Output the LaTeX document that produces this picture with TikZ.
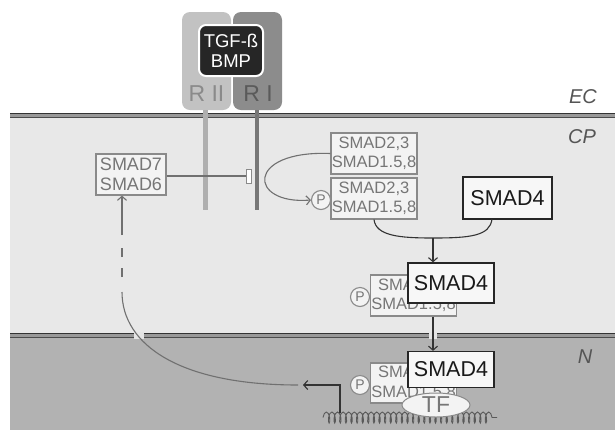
\documentclass[tikz,border=0pt]{standalone}
\usepackage{fontspec}
\setmainfont{Liberation Sans}
\usetikzlibrary{arrows.meta,decorations.pathmorphing,shapes.geometric}
\definecolor{cpbg}{HTML}{E8E8E8}
\definecolor{nbg}{HTML}{B2B2B2}
\definecolor{boxgray}{HTML}{8A8A8A}
\definecolor{boxfill}{HTML}{F3F3F3}
\definecolor{txtgray}{HTML}{767676}
\definecolor{conngray}{HTML}{707070}
\definecolor{rtwo}{HTML}{C2C2C2}
\definecolor{rone}{HTML}{8C8C8C}
\definecolor{rtwotxt}{HTML}{8A8A8A}
\definecolor{ronetxt}{HTML}{5A5A5A}
\definecolor{labgray}{HTML}{555555}
\begin{document}
\begin{tikzpicture}[x=1pt,y=-1pt,
  >={Straight Barb[length=4pt,width=9pt]},
  graybox/.style={draw=boxgray, line width=1.2pt, fill=boxfill, text=txtgray, inner sep=0pt,
    align=center, font=\fontsize{16.5}{19.5}\selectfont, minimum width=86pt, minimum height=41pt},
  sfourbox/.style={draw=black!85, line width=1.3pt, fill=white!97!black, inner sep=0pt,
    font=\fontsize{21.5}{24}\selectfont, text=black!90, minimum width=86pt},
  pcirc/.style={circle, draw=boxgray, line width=1.1pt, fill=boxfill, minimum size=19pt, inner sep=0pt,
    font=\fontsize{14}{14}\selectfont, text=txtgray},
  conn/.style={draw=conngray, line width=1.1pt},
  blk/.style={draw=black!80, line width=1.1pt},
  regionlab/.style={font=\fontsize{20}{20}\selectfont\itshape, text=labgray},
  membrane/.style={line width=1.6pt, draw=black!80}]
\useasboundingbox (0,0) rectangle (615,432);
\fill[white] (0,0) rectangle (615,432);
% regions
\fill[cpbg] (10,115) rectangle (615,335);
\fill[nbg] (10,335) rectangle (615,430);
% membranes
\fill[black!40] (10,112.5) rectangle (615,118);
\draw[membrane] (10,113.5) -- (615,113.5);
\draw[line width=0.9pt, black!70] (10,117.3) -- (615,117.3);
\fill[black!40] (10,332.5) rectangle (615,338);
\draw[membrane] (10,333.5) -- (615,333.5);
\draw[line width=0.9pt, black!70] (10,337.3) -- (615,337.3);
% gaps in nuclear membrane
\fill[white!90!black] (134,332) rectangle (144,339);
\fill[white!90!black] (429,332) rectangle (437,339);
% receptors
\node[fill=rtwo, rounded corners=8pt, minimum width=49pt, minimum height=98pt, inner sep=0pt] (r2) at (206.5,61) {};
\node[fill=rone, rounded corners=8pt, minimum width=49pt, minimum height=98pt, inner sep=0pt] (r1) at (257.5,61) {};
\node[fill=rtwo!90!black, minimum width=5pt, minimum height=100pt, inner sep=0pt] (st2) at (205.5,160) {};
\node[fill=rone!85!black, minimum width=4.5pt, minimum height=100pt, inner sep=0pt] (st1) at (257,160) {};
\node[font=\fontsize{23}{23}\selectfont, text=rtwotxt] (r2lab) at (206.5,94) {R II};
\node[font=\fontsize{23}{23}\selectfont, text=ronetxt] (r1lab) at (258,94) {R I};
\node[fill=black!85, draw=white, line width=2pt, rounded corners=7pt, minimum width=64pt, minimum height=51pt,
  inner sep=0pt, text=white, align=center, font=\fontsize{18.5}{20}\selectfont] (lig) at (231,50.5) {TGF-ß\\BMP};
% region labels
\node[regionlab] (ec) at (583,97) {EC};
\node[regionlab] (cp) at (582,137) {CP};
\node[regionlab] (nn) at (585,357) {N};
% SMAD7/6
\node[graybox, minimum width=70pt, font=\fontsize{18}{20}\selectfont] (s76) at (131,174.5) {SMAD7\\SMAD6};
\node[draw=boxgray, fill=white, line width=1pt, minimum width=5pt, minimum height=14pt, inner sep=0pt] (bar) at (248.5,176) {};
\draw[conn] (s76.east |- bar.west) -- (bar.west);
% cytoplasm SMADs
\node[graybox] (s23a) at (374,153.5) {SMAD2,3\\SMAD1.5,8};
\node[graybox] (s23b) at (374,198.5) {SMAD2,3\\SMAD1.5,8};
\node[pcirc] (p1) at (321,200) {P};
\draw[conn,->] (s23a.west) .. controls (245,150) and (248,205) .. (p1.west);
\node[sfourbox, minimum width=89pt, minimum height=42pt] (s4a) at (507.5,198) {SMAD4};
% complex in cytoplasm
\node[graybox] (s23c) at (413.5,295.5) {SMAD2,3\\SMAD1.5,8};
\node[pcirc] (p2) at (360,297) {P};
\node[sfourbox, minimum height=40pt] (s4b) at (451,283) {SMAD4};
% joining arc
\coordinate (j) at (433,238);
\coordinate (arcR) at (492,219);
\draw[blk] (s23b.south) .. controls (376,236) and (400,238) .. (j) .. controls (470,238) and (490,236) .. (arcR);
\draw[blk,->] (j) -- (j |- s4b.north);
% nucleus complex
\coordinate (dnaL) at (323,417.5);
\coordinate (dnaR) at (497,417.5);
\draw[decorate, decoration={coil, amplitude=5.5pt, segment length=5.6pt, aspect=0.35}, draw=black!65, line width=0.9pt] (dnaL) -- (dnaR);
\node[graybox, minimum height=40pt] (s23d) at (413.5,383) {SMAD2,3\\SMAD1.5,8};
\node[pcirc] (p3) at (360,385) {P};
\node[sfourbox, minimum height=36pt] (s4c) at (451,369.5) {SMAD4};
\node[ellipse, draw=boxgray, line width=1pt, fill=boxfill, minimum width=68pt, minimum height=24pt, inner sep=0pt,
  font=\fontsize{23}{23}\selectfont, text=txtgray] (tf) at (436,405) {TF};
\draw[blk,->] (s23c.south -| j) -- (s4c.north -| j);
% transcription arrow and feedback
\coordinate (tsa) at (340,413);
\coordinate (tsb) at (303,385);
\draw[blk,->] (tsa) |- (tsb);
\coordinate (fb0) at (298,385);
\coordinate (c1) at (122,292);
\coordinate (c2) at (122,235);
\draw[conn] (fb0) .. controls (180,385) and (122,345) .. (c1);
\draw[conn] (122,277) -- (122,268);
\draw[conn] (122,257) -- (122,248);
\draw[conn,->] (c2) -- (c2 |- s76.south);
\end{tikzpicture}
\end{document}
